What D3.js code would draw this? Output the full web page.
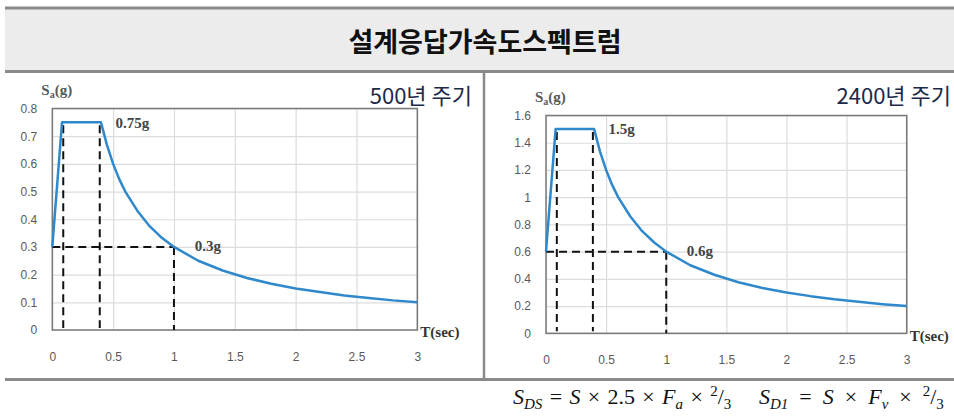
<!DOCTYPE html>
<html>
<head>
<meta charset="utf-8">
<script src="https://cdn.jsdelivr.net/npm/d3@7"></script>
<style>
  body { margin: 0; background: #fff; }
  svg { display: block; }
</style>
</head>
<body>
<div id="chart"></div>
<script>
// ---- data ----
const title = "설계응답가속도스펙트럼";
const periodLabels = ["500년 주기", "2400년 주기"];

const periods = [0, 0.08, 0.4, 0.45, 0.5, 0.55, 0.6, 0.7, 0.8, 0.9, 1.0, 1.2, 1.4, 1.6, 1.8, 2.0, 2.2, 2.4, 2.6, 2.8, 3.0];
const sa500 = [0.3, 0.75, 0.75, 0.667, 0.6, 0.545, 0.5, 0.43, 0.375, 0.333, 0.3, 0.25, 0.215, 0.188, 0.167, 0.15, 0.137, 0.125, 0.116, 0.107, 0.1];
const sa2400 = [0.6, 1.5, 1.5, 1.333, 1.2, 1.09, 1.0, 0.86, 0.75, 0.667, 0.6, 0.5, 0.43, 0.375, 0.333, 0.3, 0.273, 0.25, 0.231, 0.214, 0.2];

const xTicks = [0, 0.5, 1, 1.5, 2, 2.5, 3];
const yTicks500 = [0, 0.1, 0.2, 0.3, 0.4, 0.5, 0.6, 0.7, 0.8];
const yTicks2400 = [0, 0.2, 0.4, 0.6, 0.8, 1, 1.2, 1.4, 1.6];

// corner periods (T0, Ts, 1 sec) and the marked values
const cornerT = [0.09, 0.39];
const oneSec = 1;
const peak500 = 0.75, peak2400 = 1.5;
const sd1_500 = 0.3, sd1_2400 = 0.6;
const peakLabels = ["0.75g", "1.5g"];
const sd1Labels = ["0.3g", "0.6g"];

// ---- layout ----
const width = 954, height = 418;
const panels = [
  { x0: 52.3, x1: 417.3, y0: 330, y1: 108.5, yMax: 0.8, sa: sa500, yTicks: yTicks500,
    peak: peak500, sd1: sd1_500, peakLabel: peakLabels[0], sd1Label: sd1Labels[0],
    period: periodLabels[0], periodX: 472 },
  { x0: 546, x1: 906.7, y0: 333.3, y1: 115.5, yMax: 1.6, sa: sa2400, yTicks: yTicks2400,
    peak: peak2400, sd1: sd1_2400, peakLabel: peakLabels[1], sd1Label: sd1Labels[1],
    period: periodLabels[1], periodX: 951 }
];

const svg = d3.select("#chart").append("svg")
  .attr("width", width)
  .attr("height", height);

svg.append("rect").attr("width", width).attr("height", height).attr("fill", "#fff");

// title band
svg.append("rect")
  .attr("x", 5).attr("y", 8).attr("width", width - 5).attr("height", 63)
  .attr("fill", "#ececec");
svg.append("line").attr("x1", 5).attr("x2", width).attr("y1", 8).attr("y2", 8)
  .attr("stroke", "#8a8a8a").attr("stroke-width", 3);
svg.append("line").attr("x1", 5).attr("x2", width).attr("y1", 71.5).attr("y2", 71.5)
  .attr("stroke", "#8a8a8a").attr("stroke-width", 3);
svg.append("text")
  .attr("x", 485).attr("y", 40)
  .attr("text-anchor", "middle").attr("dominant-baseline", "central")
  .attr("font-family", "'Noto Sans CJK KR', sans-serif")
  .attr("font-weight", 700).attr("font-size", 27)
  .attr("fill", "#111")
  .text(title);

// frame lines
svg.append("line").attr("x1", 484).attr("x2", 484).attr("y1", 72).attr("y2", 379)
  .attr("stroke", "#8a8a8a").attr("stroke-width", 2.5);
svg.append("line").attr("x1", 5).attr("x2", width).attr("y1", 379.5).attr("y2", 379.5)
  .attr("stroke", "#8a8a8a").attr("stroke-width", 3);

panels.forEach(p => {
  const x = d3.scaleLinear().domain([0, 3]).range([p.x0, p.x1]);
  const y = d3.scaleLinear().domain([0, p.yMax]).range([p.y0, p.y1]);
  const g = svg.append("g");

  // grid
  g.append("g").attr("transform", `translate(0,${p.y0})`)
    .call(d3.axisBottom(x).tickValues(xTicks).tickSize(-(p.y0 - p.y1)).tickFormat(""))
    .call(a => a.select(".domain").remove())
    .call(a => a.selectAll("line").attr("stroke", "#dcdcdc").attr("stroke-width", 1.2));
  g.append("g").attr("transform", `translate(${p.x0},0)`)
    .call(d3.axisLeft(y).tickValues(p.yTicks).tickSize(-(p.x1 - p.x0)).tickFormat(""))
    .call(a => a.select(".domain").remove())
    .call(a => a.selectAll("line").attr("stroke", "#dcdcdc").attr("stroke-width", 1.2));

  // plot border
  g.append("rect")
    .attr("x", p.x0).attr("y", p.y1)
    .attr("width", p.x1 - p.x0).attr("height", p.y0 - p.y1)
    .attr("fill", "none").attr("stroke", "#7a7a7a").attr("stroke-width", 1.5);

  // tick labels
  g.append("g").attr("transform", `translate(0,${p.y0 + 19})`)
    .call(d3.axisBottom(x).tickValues(xTicks).tickSize(0).tickFormat(d3.format("")))
    .call(a => a.select(".domain").remove())
    .call(a => a.selectAll("text").attr("fill", "#595959")
      .attr("font-family", "'Liberation Sans', Arial, sans-serif").attr("font-size", 12));
  g.append("g").attr("transform", `translate(${p.x0 - 12},0)`)
    .call(d3.axisLeft(y).tickValues(p.yTicks).tickSize(0).tickFormat(d3.format("")))
    .call(a => a.select(".domain").remove())
    .call(a => a.selectAll("text").attr("fill", "#595959")
      .attr("font-family", "'Liberation Sans', Arial, sans-serif").attr("font-size", 12));

  // dashed guides
  const dash = g.append("g").attr("stroke", "#111").attr("stroke-width", 2)
    .attr("stroke-dasharray", "8,5").attr("fill", "none");
  cornerT.forEach(t => {
    dash.append("line").attr("x1", x(t)).attr("x2", x(t))
      .attr("y1", y(p.peak) + 3).attr("y2", y(0) - 2);
  });
  dash.append("line").attr("x1", x(0)).attr("x2", x(oneSec))
    .attr("y1", y(p.sd1)).attr("y2", y(p.sd1));
  dash.append("line").attr("x1", x(oneSec)).attr("x2", x(oneSec))
    .attr("y1", y(p.sd1)).attr("y2", y(0));

  // spectrum curve
  const line = d3.line().x(d => x(d[0])).y(d => y(d[1]));
  g.append("path")
    .datum(d3.zip(periods, p.sa))
    .attr("d", line)
    .attr("fill", "none")
    .attr("stroke", "#2f88cc")
    .attr("stroke-width", 2.5)
    .attr("stroke-linejoin", "round");

  // annotations
  const serif = "'Liberation Serif', 'Times New Roman', serif";
  g.append("text")
    .attr("x", x(0.52)).attr("y", y(p.peak)).attr("dy", "0.35em")
    .attr("font-family", serif).attr("font-weight", 700).attr("font-size", 15)
    .attr("fill", "#444").text(p.peakLabel);
  g.append("text")
    .attr("x", x(1.17)).attr("y", y(p.sd1) - 1).attr("dy", "0.35em")
    .attr("font-family", serif).attr("font-weight", 700).attr("font-size", 15)
    .attr("fill", "#444").text(p.sd1Label);

  g.append("text")
    .attr("x", p.x1 + 3).attr("y", p.y0 + 2).attr("dy", "0.35em")
    .attr("font-family", serif).attr("font-weight", 700).attr("font-size", 15)
    .attr("fill", "#333").text("T(sec)");

  const sa = g.append("text")
    .attr("x", p.x0 - 11).attr("y", p.y1 - 14)
    .attr("font-family", serif).attr("font-weight", 700).attr("font-size", 15)
    .attr("fill", "#595959");
  sa.append("tspan").text("S");
  sa.append("tspan").attr("font-size", 10).attr("dy", 3).text("a");
  sa.append("tspan").attr("dy", -3).text("(g)");

  // return period label
  svg.append("text")
    .attr("x", p.periodX).attr("y", 96).attr("dy", "0.35em")
    .attr("text-anchor", "end")
    .attr("font-family", "'Noto Sans CJK KR', sans-serif")
    .attr("font-size", 22).attr("fill", "#1b2a4a")
    .text(p.period);
});

// design formulas
const sp = "\u2004", sp2 = "\u2002";
const formulas = [
  { x: 513, parts: [["S", "i"], ["DS", "i-sub"], [sp + "=" + sp, "n"], ["S", "i"],
    [sp + "×" + sp + "2.5" + sp + "×" + sp, "n"],
    ["F", "i"], ["a", "i-sub"], [sp + "×" + sp, "n"], ["2", "sup"], ["/", "n"], ["3", "sub"]] },
  { x: 759, parts: [["S", "i"], ["D1", "i-sub"], [sp2 + "=" + sp2, "n"], ["S", "i"], [sp2 + "×" + sp2, "n"],
    ["F", "i"], ["v", "i-sub"], [sp2 + "×" + sp2, "n"], ["2", "sup"], ["/", "n"], ["3", "sub"]] }
];
formulas.forEach(f => {
  const t = svg.append("text").attr("x", f.x).attr("y", 404)
    .attr("font-family", "'Liberation Serif', 'Times New Roman', serif")
    .attr("font-size", 22).attr("fill", "#111")
    .attr("xml:space", "preserve");
  let shift = 0;
  f.parts.forEach(([txt, k]) => {
    let target = 0;
    if (k.endsWith("sub")) target = 5;
    if (k === "sup") target = -8;
    const ts = t.append("tspan").text(txt).attr("dy", target - shift);
    shift = target;
    if (k.startsWith("i")) ts.attr("font-style", "italic");
    if (k.endsWith("sub") || k === "sup") ts.attr("font-size", 15);
  });
});
</script>
</body>
</html>
